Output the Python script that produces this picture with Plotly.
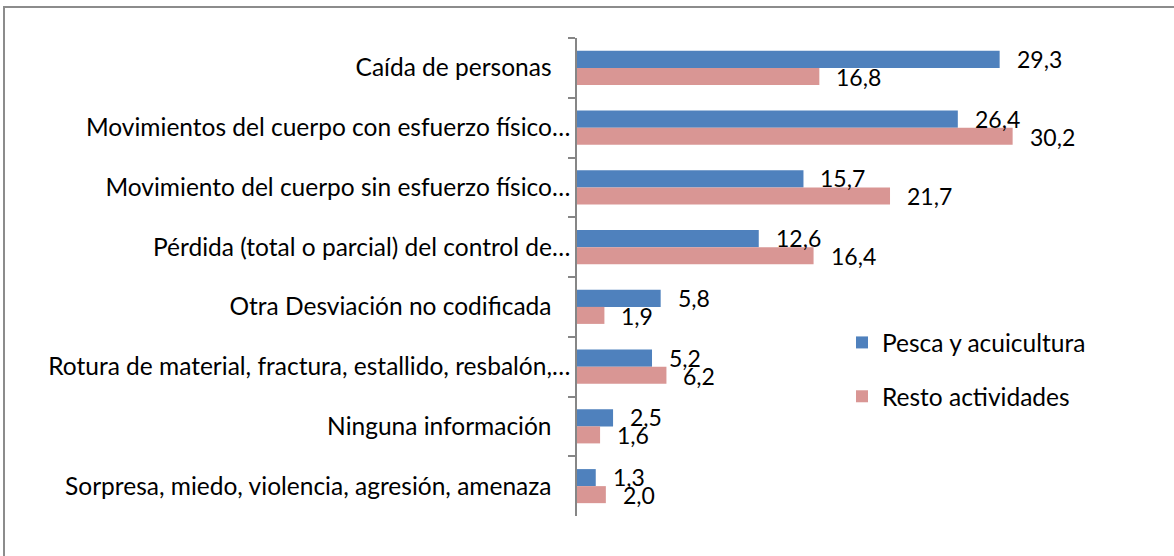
import plotly.graph_objects as go

categories = [
    "Caída de personas",
    "Movimientos del cuerpo con esfuerzo físico…",
    "Movimiento del cuerpo sin esfuerzo físico…",
    "Pérdida (total o parcial) del control de…",
    "Otra Desviación no codificada",
    "Rotura de material, fractura, estallido, resbalón,…",
    "Ninguna información",
    "Sorpresa, miedo, violencia, agresión, amenaza",
]
pesca = [29.3, 26.4, 15.7, 12.6, 5.8, 5.2, 2.5, 1.3]
resto = [16.8, 30.2, 21.7, 16.4, 1.9, 6.2, 1.6, 2.0]
series_names = ["Pesca y acuicultura", "Resto actividades"]
title_text = "accidentes"

FONT = "Lato"
FS = 24.5
FS_LBL = 23
BLUE = "#4F81BD"
PINK = "#D99694"

W, H = 1174, 556
ML, MR, MT, MB = 577, 20, 38, 40
PW = W - ML - MR
PH = H - MT - MB

labels = [c if c.endswith("…") else c + "\u00a0" * 3 for c in categories]

fig = go.Figure()
fig.add_trace(go.Bar(y=labels, x=pesca, name=series_names[0], orientation="h",
                     marker=dict(color=BLUE, line=dict(width=0)), legendgroup="a"))
fig.add_trace(go.Bar(y=labels, x=resto, name=series_names[1], orientation="h",
                     marker=dict(color=PINK, line=dict(width=0)), legendgroup="b"))


def px_x(px):
    return (px - ML) / PW


def px_y(py):
    return (H - MB - py) / PH


annotations = []
for lab, v in zip(labels, pesca):
    annotations.append(dict(x=v, y=lab, xref="x", yref="y", text=f"{v:.1f}".replace(".", ","),
                            showarrow=False, xanchor="left", yanchor="middle",
                            xshift=15, yshift=9, font=dict(family=FONT, size=FS_LBL, color="black")))
for lab, v in zip(labels, resto):
    annotations.append(dict(x=v, y=lab, xref="x", yref="y", text=f"{v:.1f}".replace(".", ","),
                            showarrow=False, xanchor="left", yanchor="middle",
                            xshift=15, yshift=-9, font=dict(family=FONT, size=FS_LBL, color="black")))
annotations.append(dict(x=px_x(600), y=1, xref="paper", yref="paper",
                        yshift=MT + 10, text=title_text, showarrow=False, xanchor="center",
                        yanchor="middle", font=dict(family=FONT, size=FS, color="#444444")))

fig.update_layout(
    width=W, height=H,
    margin=dict(l=ML, r=MR, t=MT, b=MB, pad=0),
    paper_bgcolor="white", plot_bgcolor="white",
    barmode="group", bargap=0.43, bargroupgap=0,
    font=dict(family=FONT, size=FS, color="black"),
    xaxis=dict(range=[0, 40], visible=False, fixedrange=True),
    yaxis=dict(autorange="reversed", type="category", showline=True, linecolor="#868686",
               linewidth=1.5, ticks="outside", ticklen=7, tickwidth=1.5, tickcolor="#868686",
               tickson="boundaries", showgrid=False, tickfont=dict(family=FONT, size=FS)),
    showlegend=True,
    legend=dict(x=px_x(842), y=px_y(320), xanchor="left", yanchor="top",
                font=dict(family=FONT, size=FS), traceorder="grouped", tracegroupgap=19,
                bgcolor="rgba(0,0,0,0)"),
    annotations=annotations,
    shapes=[dict(type="rect", xref="paper", yref="paper",
                 x0=px_x(4), x1=px_x(1190), y0=px_y(570), y1=px_y(7),
                 line=dict(color="#8C8C8C", width=2), fillcolor="rgba(0,0,0,0)", layer="below")],
)

fig.write_html("out.html", config={"displayModeBar": False},
               post_script="document.body.style.margin='0';document.body.style.overflow='hidden';")
